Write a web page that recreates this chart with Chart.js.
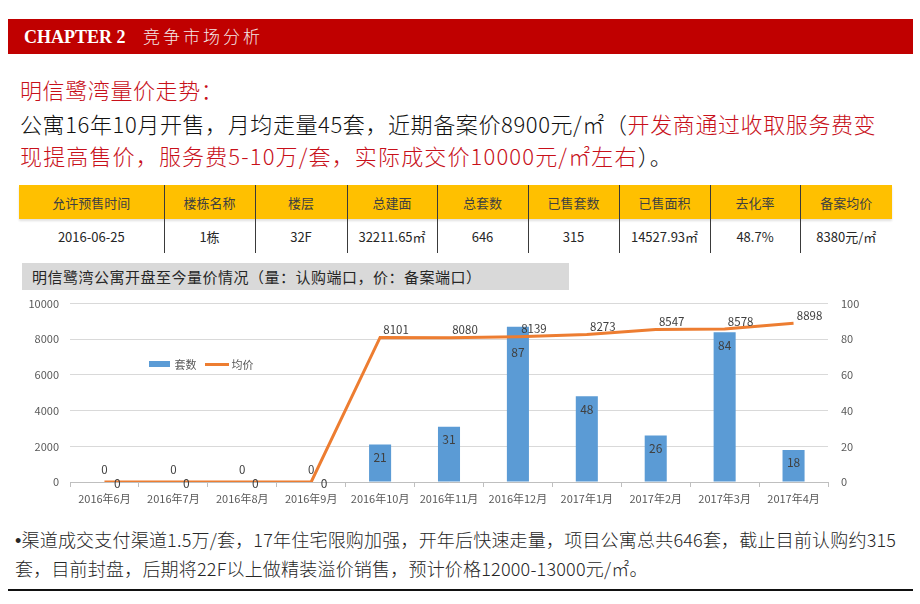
<!DOCTYPE html>
<html lang="zh">
<head>
<meta charset="UTF-8">
<title>明信鹭湾量价走势</title>
<script src="https://cdn.jsdelivr.net/npm/chart.js"></script>
<style>
  body {
    margin: 0;
    width: 920px;
    height: 604px;
    position: relative;
    background: #fff;
    font-family: "Microsoft YaHei", "Noto Sans CJK SC", sans-serif;
    overflow: hidden;
  }
  .bar {
    position: absolute; left: 8px; top: 19px; width: 905px; height: 35px;
    background: #c00000;
  }
  .bar .en {
    position: absolute; left: 16px; top: 6px;
    font: bold 18px "Liberation Serif", serif; color: #fff; line-height: 24px;
  }
  .bar .cn {
    position: absolute; left: 135px; top: 5px;
    font-size: 17px; font-weight: 300; letter-spacing: 3px; color: #f4eaea; line-height: 24px;
  }
  .line {
    position: absolute; left: 20px; font-size: 22px; font-weight: 300; letter-spacing: 0.6px;
    line-height: 30px; white-space: nowrap; color: #111;
  }
  .red { color: #c8101a; }
  table {
    position: absolute; left: 19px; top: 185px;
    border-collapse: collapse; table-layout: fixed;
    font-size: 13px; text-align: center;
  }
  th, td { padding: 0; height: 34px; border-left: 1px solid #3a3a3a; }
  th:first-child, td:first-child { border-left: none; }
  th { background: #ffc000; font-weight: normal; color: #404040; }
  td { color: #262626; }
  thead tr { box-shadow: 0 2px 2px rgba(0,0,0,0.12); }
  .ctitle {
    position: absolute; left: 22px; top: 263px; width: 537px; height: 27px;
    padding-left: 10px; background: #d9d9d9; color: #262626;
    font-size: 15px; letter-spacing: 0.5px; line-height: 27px; white-space: nowrap;
  }
  #chartBox { position: absolute; left: 0; top: 284px; width: 900px; height: 231px; }
  .legend { position: absolute; top: 354px; left: 149px; font-size: 11px; color: #595959; line-height: 16px; }
  .legend span { display: inline-block; vertical-align: middle; }
  .foot {
    position: absolute; left: 15px; top: 526px; font-size: 18px; font-weight: 300; letter-spacing: 0.2px;
    line-height: 27px; color: #262626; white-space: nowrap;
  }
  .foot .dot { font-family: "Liberation Sans", sans-serif; }
  .rule { position: absolute; left: 8px; top: 589px; width: 905px; height: 2px; background: #111; }
</style>
</head>
<body>
  <div class="bar"><span class="en">CHAPTER 2</span><span class="cn">竞争市场分析</span></div>

  <div class="line red" style="top:74px">明信鹭湾量价走势：</div>
  <div class="line" style="top:108px">公寓16年10月开售，月均走量45套，近期备案价8900元/㎡（<span class="red">开发商通过收取服务费变</span></div>
  <div class="line" style="top:140px;letter-spacing:1.15px"><span class="red">现提高售价，服务费5-10万/套，实际成交价10000元/㎡左右</span>）。</div>

  <table id="info"></table>

  <div class="ctitle">明信鹭湾公寓开盘至今量价情况（量：认购端口，价：备案端口）</div>

  <div id="chartBox"><canvas id="chart" width="900" height="231"></canvas></div>

  <div class="legend">
    <span style="width:21px;height:6px;background:#5b9bd5"></span>
    <span style="margin-left:2px">套数</span>
    <span style="width:24px;height:3px;background:#ed7d31;margin-left:6px"></span>
    <span>均价</span>
  </div>

  <div class="foot"><span class="dot">•</span>渠道成交支付渠道1.5万/套，17年住宅限购加强，开年后快速走量，项目公寓总共646套，截止目前认购约315<br>套，目前封盘，后期将22F以上做精装溢价销售，预计价格12000-13000元/㎡。</div>
  <div class="rule"></div>

<script>
  // table
  const tableHeads = ['允许预售时间', '楼栋名称', '楼层', '总建面', '总套数', '已售套数', '已售面积', '去化率', '备案均价'];
  const tableRow = ['2016-06-25', '1栋', '32F', '32211.65㎡', '646', '315', '14527.93㎡', '48.7%', '8380元/㎡'];
  const colWidths = [145, 91, 92, 90, 91, 91, 91, 90, 92];

  const table = document.getElementById('info');
  table.innerHTML =
    '<colgroup>' + colWidths.map(w => `<col style="width:${w}px">`).join('') + '</colgroup>' +
    '<thead><tr>' + tableHeads.map(h => `<th>${h}</th>`).join('') + '</tr></thead>' +
    '<tbody><tr>' + tableRow.map(v => `<td>${v}</td>`).join('') + '</tr></tbody>';

  // chart data
  const months = ['2016年6月', '2016年7月', '2016年8月', '2016年9月', '2016年10月', '2016年11月',
    '2016年12月', '2017年1月', '2017年2月', '2017年3月', '2017年4月'];
  const units = [0, 0, 0, 0, 21, 31, 87, 48, 26, 84, 18];
  const prices = [0, 0, 0, 0, 8101, 8080, 8139, 8273, 8547, 8578, 8898];

  const FONT = '"Microsoft YaHei", "Noto Sans CJK SC", sans-serif';

  // Excel-like data labels
  const valueLabels = {
    id: 'valueLabels',
    afterDatasetsDraw(chart) {
      const ctx = chart.ctx;
      const lineMeta = chart.getDatasetMeta(0);
      ctx.save();
      ctx.fillStyle = '#404040';
      ctx.textAlign = 'center';
      chart.data.datasets.forEach((ds, i) => {
        const meta = chart.getDatasetMeta(i);
        meta.data.forEach((el, j) => {
          const v = ds.data[j];
          if (ds.type === 'bar') {
            ctx.font = '12px ' + FONT;
            ctx.textBaseline = 'middle';
            if (v === 0) {
              ctx.fillText(v, el.x + 13, el.y + 1);
            } else {
              let y = el.y + 13;
              const ly = lineMeta.data[j].y;
              if (Math.abs(ly - y) < 12) y = ly + 16; // keep clear of the line
              ctx.fillText(v, el.x, y);
            }
          } else {
            ctx.font = '11.5px ' + FONT;
            ctx.textBaseline = 'bottom';
            if (v === 0) ctx.fillText(v, el.x, el.y - 7);
            else ctx.fillText(v, el.x + 16, el.y - 2);
          }
        });
      });
      ctx.restore();
    }
  };

  new Chart(document.getElementById('chart'), {
    data: {
      labels: months,
      datasets: [
        {
          type: 'line',
          label: '均价',
          data: prices,
          yAxisID: 'y',
          borderColor: '#ed7d31',
          borderWidth: 3,
          pointRadius: 0,
          tension: 0,
          order: 0
        },
        {
          type: 'bar',
          label: '套数',
          data: units,
          yAxisID: 'y1',
          backgroundColor: '#5b9bd5',
          categoryPercentage: 1,
          barPercentage: 0.32,
          order: 1
        }
      ]
    },
    options: {
      responsive: false,
      animation: false,
      layout: { padding: { top: 4, left: 0, right: 0, bottom: 0 } },
      plugins: {
        legend: { display: false },
        tooltip: { enabled: false }
      },
      scales: {
        x: {
          offset: true,
          grid: { offset: true, drawOnChartArea: false, drawTicks: true, tickLength: 5, color: '#bfbfbf' },
          border: { color: '#bfbfbf' },
          ticks: { color: '#595959', font: { size: 11, family: FONT }, padding: 5, maxRotation: 0, autoSkip: false },
          afterFit(scale) { scale.height = 33; }
        },
        y: {
          position: 'left',
          min: 0, max: 10000,
          ticks: {
            stepSize: 2000, color: '#595959', font: { size: 11, family: FONT }, padding: 11,
            callback: v => String(v)
          },
          grid: { color: '#d9d9d9', drawTicks: false },
          border: { display: false },
          afterFit(scale) { scale.width = 70; }
        },
        y1: {
          position: 'right',
          min: 0, max: 100,
          ticks: { stepSize: 20, color: '#595959', font: { size: 11, family: FONT }, padding: 13 },
          grid: { drawOnChartArea: false, drawTicks: false },
          border: { display: false },
          afterFit(scale) { scale.width = 72; }
        }
      }
    },
    plugins: [valueLabels]
  });
</script>
</body>
</html>
